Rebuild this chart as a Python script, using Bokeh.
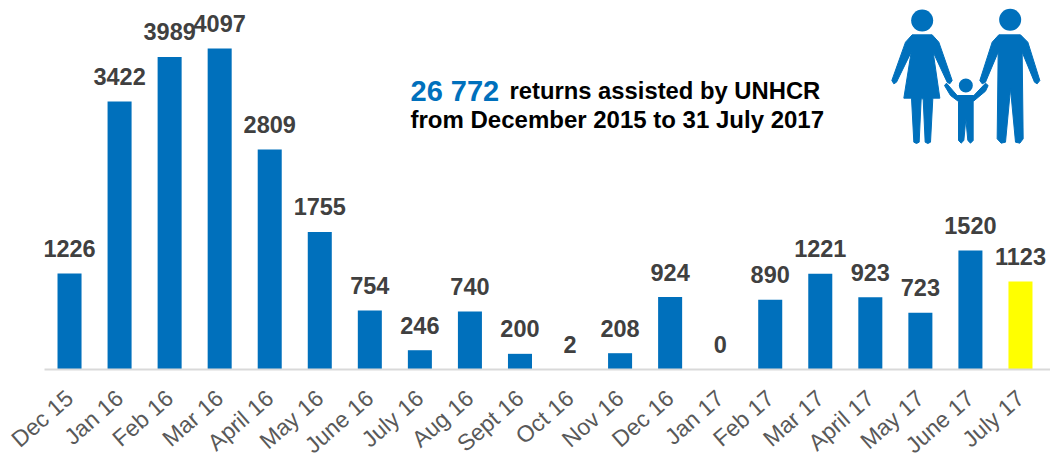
from bokeh.plotting import figure
from bokeh.models import Range1d, FixedTicker, ColumnDataSource, LinearAxis
from bokeh.core.properties import value
from bokeh.embed import file_html
from bokeh.resources import INLINE

months = ["Dec 15","Jan 16","Feb 16","Mar 16","April 16","May 16","June 16","July 16","Aug 16","Sept 16",
          "Oct 16","Nov 16","Dec 16","Jan 17","Feb 17","Mar 17","April 17","May 17","June 17","July 17"]
returns = [1226,3422,3989,4097,2809,1755,754,246,740,200,2,208,924,0,890,1221,923,723,1520,1123]
BLUE = "#0070BC"
colors = [BLUE]*19 + ["#FFFF00"]
idx = list(range(len(months)))

W, H = 1050, 459
L, T, R, B = 44, 0, 1050, 369   # plot area in reference pixels; B is the zero line
k = 0.07835                     # px per return
p = figure(width=W, height=H, output_backend="svg", toolbar_location=None,
           x_range=Range1d(-0.5-L/50.05, -0.5+(R-L)/50.05), y_range=Range1d(-(H-B)/k, (B-T)/k),
           x_axis_type=None, y_axis_type=None,
           min_border_left=0, min_border_right=0, min_border_top=0, min_border_bottom=0)
p.outline_line_color = None
p.grid.visible = False
p.background_fill_color = None

ax = LinearAxis(ticker=FixedTicker(ticks=idx), fixed_location=0, bounds=(-0.5, 19.6),
                major_label_overrides={i: m for i, m in enumerate(months)})
ax.major_label_orientation = 0.72
ax.major_label_text_font = "Liberation Sans"
ax.major_label_text_font_size = "23px"
ax.major_label_text_color = "#595959"
ax.major_tick_line_color = None
ax.minor_tick_line_color = None
ax.axis_line_color = "#D9D9D9"
ax.axis_line_width = 2
ax.major_label_standoff = 19
p.add_layout(ax, "below")

src = ColumnDataSource(dict(x=idx, y=returns, c=colors, t=[str(v) for v in returns]))
p.vbar(x="x", top="y", width=0.48, bottom=0, fill_color="c", line_color=None, source=src)
p.text(x="x", y="y", text="t", source=src, text_align="center", text_baseline="middle", y_offset=-25,
       text_font=value("Liberation Sans"), text_font_style="bold", text_font_size="23.5px", text_color="#404040")

# overlay range in reference pixels, for headline and icon
p.extra_x_ranges["px"] = Range1d(0, W)
p.extra_y_ranges["px"] = Range1d(H, 0)

def txt(x, y, s, size, color):
    p.text(x=[x], y=[y], text=[s], x_range_name="px", y_range_name="px", text_align="left",
           text_baseline="alphabetic", text_font=value("Liberation Sans"), text_font_style="bold",
           text_font_size=size, text_color=color)

txt(410, 90, "26 772", "29px", BLUE)
txt(509, 90, "returns assisted by UNHCR", "23.8px", "#000000")
txt(410, 119, "from December 2015 to 31 July 2017", "24px", "#000000")

woman = [(125,103),(185,103),(205,125),(245,240),(238,250),(230,245),(188,155),(208,293),(187,293),(180,425),
         (172,429),(164,425),(158,295),(152,295),(146,425),(138,429),(130,425),(123,293),(100,293),(122,155),
         (78,245),(70,250),(64,240),(105,125)]
man = [(385,103),(450,103),(472,125),(508,240),(500,250),(492,245),(455,155),(458,415),(448,428),(435,425),
       (420,265),(405,425),(392,428),(380,415),(383,155),(345,245),(335,250),(328,240),(365,125)]
child = [(222,255),(228,248),(260,285),(310,285),(345,248),(353,255),(345,272),(308,303),(308,420),(300,428),
         (292,420),(286,355),(280,420),(272,428),(264,420),(264,303),(240,285)]
heads = [(155,60,33),(419,58,33),(286,255,21)]
ox, oy, s = 870, 0, 3
for shape in (woman, man, child):
    p.patch([ox+a/s for a, b in shape], [oy+b/s for a, b in shape], x_range_name="px", y_range_name="px",
            fill_color=BLUE, line_color=BLUE, line_width=1, line_join="round")
p.scatter([ox+a/s for a, b, r in heads], [oy+b/s for a, b, r in heads], size=[2*r/s for a, b, r in heads],
          x_range_name="px", y_range_name="px", fill_color=BLUE, line_color=None)

open("out.html", "w").write(file_html(p, INLINE))
